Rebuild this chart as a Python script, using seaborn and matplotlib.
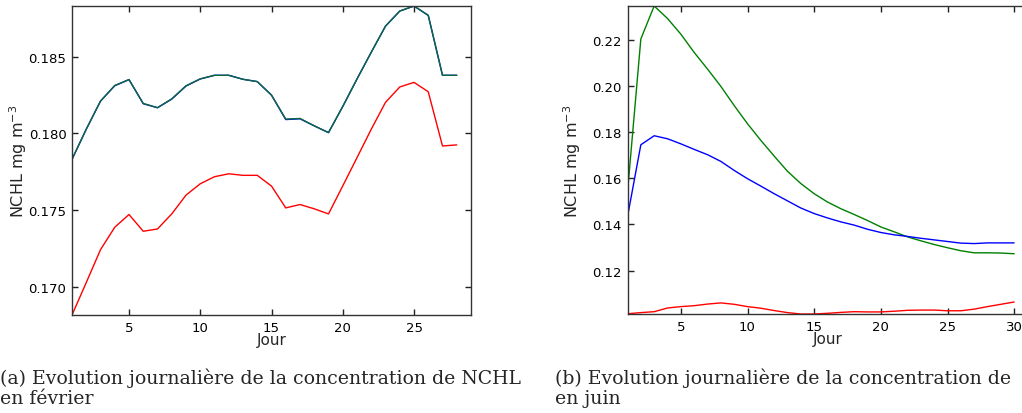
import numpy as np
import pandas as pd
import matplotlib
matplotlib.use("Agg")
import matplotlib.pyplot as plt
import seaborn as sns

# ---------------- data ----------------
days_feb = list(range(1, 29))
feb_blue = [0.17831, 0.18027, 0.18210, 0.18310, 0.18350, 0.18193, 0.18167, 0.18223,
            0.18308, 0.18354, 0.18378, 0.18378, 0.18352, 0.18337, 0.18249, 0.18090,
            0.18095, 0.18049, 0.18005, 0.18175, 0.18354, 0.18528, 0.18698, 0.18796,
            0.18829, 0.18768, 0.18378, 0.18378]
feb_green = [0.17831, 0.18027, 0.18210, 0.18312, 0.18350, 0.18195, 0.18167, 0.18225,
             0.18310, 0.18355, 0.18378, 0.18378, 0.18352, 0.18337, 0.18249, 0.18093,
             0.18097, 0.18049, 0.18005, 0.18175, 0.18354, 0.18528, 0.18698, 0.18796,
             0.18829, 0.18768, 0.18378, 0.18378]
feb_red = [0.16818, 0.17029, 0.17243, 0.17389, 0.17472, 0.17363, 0.17378, 0.17476,
           0.17598, 0.17672, 0.17718, 0.17737, 0.17727, 0.17727, 0.17657, 0.17515,
           0.17537, 0.17509, 0.17476, 0.17658, 0.17842, 0.18027, 0.18202, 0.18302,
           0.18332, 0.18271, 0.17918, 0.17925]

days_jun = list(range(1, 31))
jun_green = [0.1540, 0.2203, 0.2346, 0.2292, 0.2224, 0.2145, 0.2073, 0.1998,
             0.1915, 0.1836, 0.1764, 0.1696, 0.1630, 0.1577, 0.1533, 0.1497,
             0.1468, 0.1443, 0.1417, 0.1389, 0.1368, 0.1346, 0.1329, 0.1313,
             0.1299, 0.1286, 0.1277, 0.1277, 0.1276, 0.1273]
jun_blue = [0.1433, 0.1745, 0.1784, 0.1771, 0.1749, 0.1725, 0.1702, 0.1673,
            0.1634, 0.1598, 0.1566, 0.1533, 0.1502, 0.1471, 0.1447, 0.1428,
            0.1411, 0.1397, 0.1379, 0.1365, 0.1355, 0.1348, 0.1340, 0.1333,
            0.1326, 0.1319, 0.1317, 0.1320, 0.1320, 0.1320]
jun_red = [0.1013, 0.1018, 0.1022, 0.1038, 0.1044, 0.1048, 0.1055, 0.1060,
           0.1054, 0.1044, 0.1037, 0.1027, 0.1018, 0.1012, 0.1012, 0.1015,
           0.1019, 0.1022, 0.1021, 0.1021, 0.1024, 0.1028, 0.1029, 0.1029,
           0.1026, 0.1026, 0.1033, 0.1044, 0.1054, 0.1064]

feb_yticks = [0.170, 0.175, 0.180, 0.185]
feb_xticks = [5, 10, 15, 20, 25]
jun_yticks = [0.12, 0.14, 0.16, 0.18, 0.20, 0.22]
jun_xticks = [5, 10, 15, 20, 25, 30]

xlabel = "Jour"
ylabel = "NCHL mg m$^{\\mathregular{-3}}$"
caption_a = ["(a) Evolution journalière de la concentration de NCHL", "en février"]
caption_b = ["(b) Evolution journalière de la concentration de", "en juin"]

# ---------------- style ----------------
sns.set_style("ticks")
plt.rcParams['font.family'] = ['DejaVu Sans']
plt.rcParams['mathtext.default'] = 'regular'

fig = plt.figure(figsize=(10.22, 4.14), dpi=100)
W, H = 1022, 414

def make_ax(left_px, right_px, top_px, bottom_px):
    return fig.add_axes([left_px / W, 1 - bottom_px / H,
                         (right_px - left_px) / W, (bottom_px - top_px) / H])

ax1 = make_ax(72, 471, 7, 316)
ax2 = make_ax(627.5, 1027.5, 7, 315)

lw = 1.0
sns.lineplot(x=days_feb, y=feb_blue, color="#0000ff", linewidth=lw, ax=ax1)
sns.lineplot(x=days_feb, y=feb_green, color="#0b6b38", linewidth=lw, ax=ax1)
sns.lineplot(x=days_feb, y=feb_red, color="#ff0000", linewidth=lw, ax=ax1)

sns.lineplot(x=days_jun, y=jun_green, color="#008000", linewidth=lw, ax=ax2)
sns.lineplot(x=days_jun, y=jun_blue, color="#0000ff", linewidth=lw, ax=ax2)
sns.lineplot(x=days_jun, y=jun_red, color="#ff0000", linewidth=lw, ax=ax2)

ax1.set_xlim(1, 29)
ax1.set_ylim(min(feb_red), max(feb_green))
ax1.set_xticks(feb_xticks)
ax1.set_yticks(feb_yticks)
ax1.set_yticklabels([f"{v:.3f}" for v in feb_yticks])

ax2.set_xlim(1, 31)
ax2.set_ylim(min(jun_red), max(jun_green))
ax2.set_xticks(jun_xticks)
ax2.set_yticks(jun_yticks)
ax2.set_yticklabels([f"{v:.2f}" for v in jun_yticks])

for ax, hpx, ylx in ((ax1, 309, (29 - 72) / 399), (ax2, 308, (583 - 627.5) / 400)):
    ax.tick_params(direction="in", top=True, right=True, length=4, width=1,
                   labelsize=9.5, pad=4, colors="#222222", labelcolor="black")
    for s in ax.spines.values():
        s.set_color("#333333")
        s.set_linewidth(1.0)
    ax.set_xlabel(xlabel, fontsize=11)
    ax.set_ylabel(ylabel, fontsize=11.5)
    ax.xaxis.set_label_coords(0.5, -17 / hpx)
    ax.yaxis.set_label_coords(ylx, 0.5)
    ax.grid(False)

cap_font = ['DejaVu Serif']
cap_size = 13.6
fig.text(0.0, 1 - 378 / H, caption_a[0], fontsize=cap_size, family=cap_font, va="center", ha="left")
fig.text(0.0, 1 - 399 / H, caption_a[1], fontsize=cap_size, family=cap_font, va="center", ha="left")
fig.text(555 / W, 1 - 378 / H, caption_b[0], fontsize=cap_size, family=cap_font, va="center", ha="left")
fig.text(555 / W, 1 - 399 / H, caption_b[1], fontsize=cap_size, family=cap_font, va="center", ha="left")

fig.savefig("out.png", dpi=100, facecolor="white")
